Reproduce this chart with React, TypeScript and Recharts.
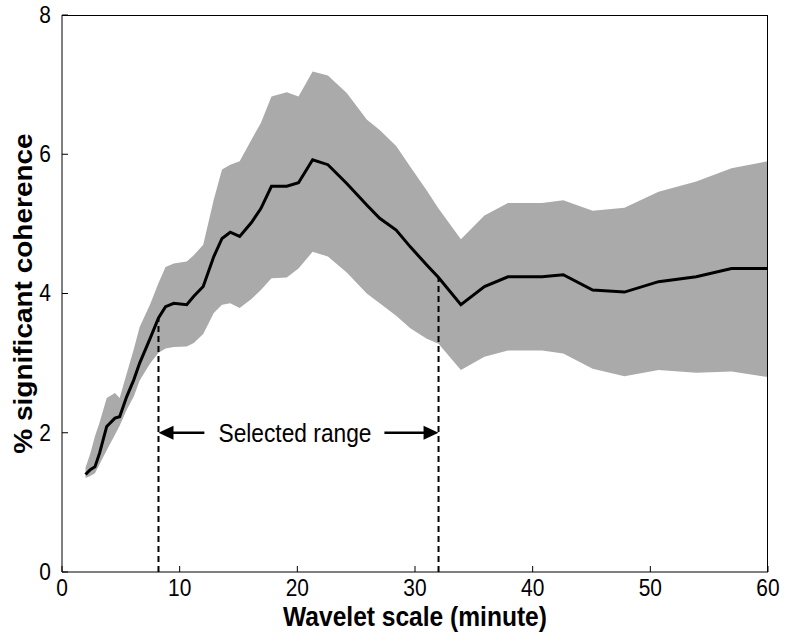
import React from 'react';
import {
  ComposedChart,
  Area,
  Line,
  XAxis,
  YAxis,
  ReferenceLine,
  ReferenceDot
} from 'recharts';

// wavelet scale (minutes)
const scaleMin = [
  2, 2.4, 2.8, 3.2, 3.8, 4.5, 4.9, 5.5, 6.1, 6.6, 7.5, 8.2, 8.8, 9.5, 10.6, 11.2,
  12.0, 12.9, 13.6, 14.3, 15.1, 16.1, 16.9, 17.8, 19.1, 20.1, 21.3, 22.6, 24.2,
  25.9, 27.0, 28.4, 29.6, 31.0, 32.0, 33.9, 35.9, 37.9, 40.8, 42.6, 45.1, 47.8,
  50.7, 53.9, 56.9, 60
];

// mean % significant coherence
const meanCoh = [
  1.40, 1.47, 1.51, 1.71, 2.09, 2.21, 2.23, 2.52, 2.76, 3.00, 3.36, 3.65, 3.81, 3.86, 3.84, 3.96,
  4.10, 4.53, 4.79, 4.88, 4.82, 5.02, 5.22, 5.54, 5.54, 5.59, 5.92, 5.85, 5.58,
  5.27, 5.08, 4.91, 4.67, 4.41, 4.23, 3.84, 4.10, 4.24, 4.24, 4.27, 4.05, 4.02,
  4.17, 4.24, 4.36, 4.36
];

// upper and lower edge of the shaded spread
const upperCoh = [
  1.50, 1.70, 1.95, 2.15, 2.50, 2.57, 2.50, 2.85, 3.20, 3.52, 3.85, 4.15, 4.38, 4.43, 4.46, 4.55,
  4.70, 5.35, 5.78, 5.85, 5.90, 6.21, 6.45, 6.83, 6.89, 6.83, 7.19, 7.13, 6.88,
  6.50, 6.35, 6.12, 5.82, 5.48, 5.22, 4.78, 5.12, 5.30, 5.30, 5.34, 5.19, 5.23,
  5.46, 5.61, 5.80, 5.90
];

const lowerCoh = [
  1.35, 1.38, 1.42, 1.55, 1.75, 1.97, 2.10, 2.33, 2.52, 2.75, 3.00, 3.15, 3.21, 3.23, 3.24, 3.29,
  3.42, 3.72, 3.84, 3.86, 3.79, 3.92, 4.05, 4.22, 4.23, 4.36, 4.60, 4.53, 4.30,
  4.00, 3.86, 3.68, 3.50, 3.35, 3.28, 2.90, 3.09, 3.18, 3.18, 3.14, 2.92, 2.81,
  2.90, 2.86, 2.88, 2.80
];

const xTicks = [0, 10, 20, 30, 40, 50, 60];
const yTicks = [0, 2, 4, 6, 8];

// selected range annotation
const selLeft = 8.2;
const selRight = 32.0;
const selLeftTop = 3.65;
const selRightTop = 4.23;
const arrowY = 2;
const leftArrowTail = 12.1;
const rightArrowTail = 27.4;
const labelX = 19.8;

const chartData = scaleMin.map((x, i) => ({
  x,
  mean: meanCoh[i],
  band: [lowerCoh[i], upperCoh[i]]
}));

const font = 'Liberation Sans, Arial, Helvetica, sans-serif';
// the original figure is a bit stretched vertically, so text is squeezed sideways
const squeeze = 0.91;

// plot box in page pixels (chart sits at 0,0)
const plotLeft = 62;
const plotTop = 15;
const plotRight = 19;
const plotBottom = 69;

const SqText = ({ x, y, size, bold, anchor, children }: any) => (
  <g transform={`translate(${x},${y}) scale(${squeeze},1)`}>
    <text
      x={0}
      y={0}
      textAnchor={anchor || 'middle'}
      dominantBaseline="central"
      fontFamily={font}
      fontSize={size}
      fontWeight={bold ? 'bold' : 'normal'}
      fill="#000"
    >
      {children}
    </text>
  </g>
);

const XTick = (props: any) => (
  <SqText x={props.x} y={props.y + 16} size={23}>
    {props.payload.value}
  </SqText>
);

const YTick = (props: any) => (
  <SqText x={props.x - 11} y={props.y} size={23} anchor="end">
    {props.payload.value}
  </SqText>
);

const XTitle = (props: any) => {
  const vb = props.viewBox;
  return (
    <SqText x={vb.x + vb.width / 2} y={vb.y + 45} size={27} bold>
      Wavelet scale (minute)
    </SqText>
  );
};

const YTitle = (props: any) => {
  const vb = props.viewBox;
  return (
    <g transform={`translate(23,${vb.y + vb.height / 2}) rotate(-90) scale(1,${squeeze})`}>
      <text
        x={0}
        y={0}
        textAnchor="middle"
        dominantBaseline="central"
        fontFamily={font}
        fontSize={28}
        fontWeight="bold"
        fill="#000"
      >
        % significant coherence
      </text>
    </g>
  );
};

const Arrow = (props: any) => {
  const { x1, y1, x2, y2 } = props;
  const dir = x2 > x1 ? 1 : -1;
  return (
    <g>
      <line x1={x1} y1={y1} x2={x2 - dir * 8} y2={y2} stroke="#000" strokeWidth={2.5} />
      <polygon
        points={`${x2},${y2} ${x2 - dir * 15},${y2 - 7} ${x2 - dir * 15},${y2 + 7}`}
        fill="#000"
      />
    </g>
  );
};

const RangeText = (props: any) => (
  <SqText x={props.cx} y={props.cy} size={25}>
    Selected range
  </SqText>
);

export default function App() {
  return (
    <div style={{ position: 'absolute', left: 0, top: 0, width: 787, height: 641, background: '#fff' }}>
      <ComposedChart
        width={787}
        height={641}
        data={chartData}
        margin={{ top: plotTop, right: plotRight, left: 0, bottom: plotBottom - 60 }}
      >
        <XAxis
          dataKey="x"
          type="number"
          domain={[0, 60]}
          ticks={xTicks}
          height={60}
          stroke="#000"
          tickSize={-6}
          tickMargin={6}
          tick={<XTick />}
          label={<XTitle />}
        />
        <YAxis
          type="number"
          domain={[0, 8]}
          ticks={yTicks}
          width={plotLeft}
          stroke="#000"
          tickSize={-6}
          tickMargin={6}
          tick={<YTick />}
          label={<YTitle />}
        />
        <Area
          dataKey="band"
          type="linear"
          stroke="none"
          fill="#aaaaaa"
          fillOpacity={1}
          isAnimationActive={false}
          activeDot={false}
        />
        <Line
          dataKey="mean"
          type="linear"
          stroke="#000"
          strokeWidth={3}
          dot={false}
          activeDot={false}
          isAnimationActive={false}
        />
        <ReferenceLine
          segment={[{ x: selLeft, y: 0 }, { x: selLeft, y: selLeftTop }]}
          stroke="#000"
          strokeWidth={2}
          strokeDasharray="6 4"
        />
        <ReferenceLine
          segment={[{ x: selRight, y: 0 }, { x: selRight, y: selRightTop }]}
          stroke="#000"
          strokeWidth={2}
          strokeDasharray="6 4"
        />
        <ReferenceLine
          segment={[{ x: leftArrowTail, y: arrowY }, { x: selLeft, y: arrowY }]}
          shape={Arrow}
        />
        <ReferenceLine
          segment={[{ x: rightArrowTail, y: arrowY }, { x: selRight, y: arrowY }]}
          shape={Arrow}
        />
        <ReferenceDot x={labelX} y={arrowY} r={0} shape={RangeText} />
      </ComposedChart>
      {/* top and right edges of the plot box */}
      <div
        style={{
          position: 'absolute',
          left: plotLeft,
          top: plotTop,
          right: plotRight,
          bottom: plotBottom,
          borderTop: '1px solid #000',
          borderRight: '1px solid #000',
          pointerEvents: 'none'
        }}
      />
    </div>
  );
}
